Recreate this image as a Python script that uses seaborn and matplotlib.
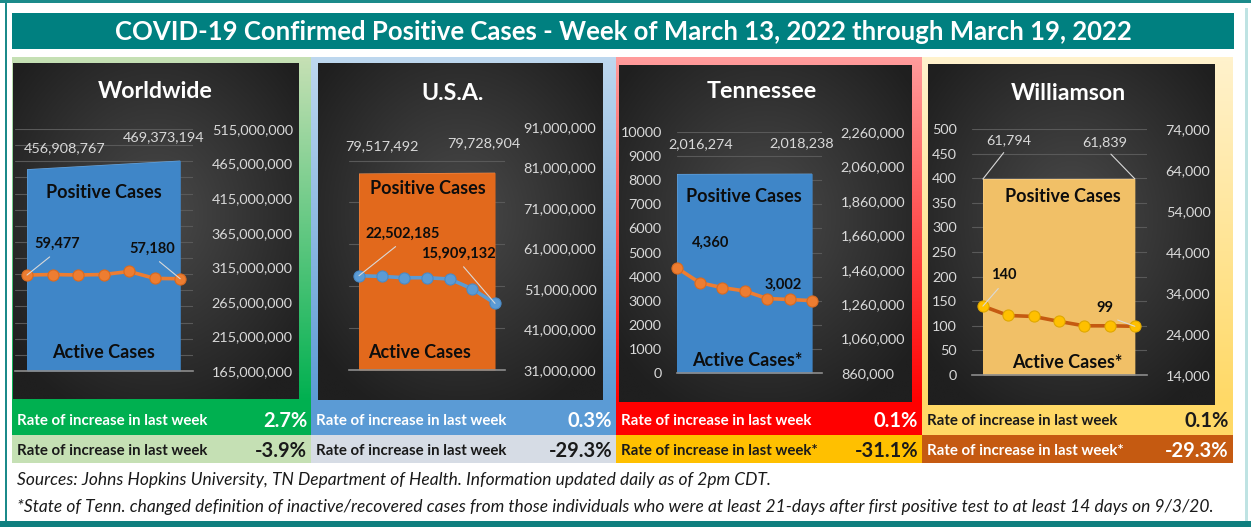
import numpy as np
import seaborn as sns
import matplotlib.pyplot as plt
from matplotlib.colors import LinearSegmentedColormap
from matplotlib.patches import Rectangle

# ---- data (week of March 13 - 19, 2022) ----
days = [1, 2, 3, 4, 5, 6, 7]
first_last = [1, 7]

world_active = [59477, 59800, 59500, 59800, 61700, 57400, 57180]
world_positive = [456908767, 469373194]
usa_active = [22502185, 22340000, 22030000, 22030000, 21720000, 19350000, 15909132]
usa_positive = [79517492, 79728904]
tn_active = [4360, 3750, 3545, 3405, 3090, 3050, 3002]
tn_positive = [2016274, 2018238]
wil_active = [140, 121, 119, 109, 100, 100, 99]
wil_positive = [61794, 61839]

panel_titles = ['Worldwide', 'U.S.A.', 'Tennessee', 'Williamson']
rate_positive = ['2.7%', '0.3%', '0.1%', '0.1%']
rate_active = ['-3.9%', '-29.3%', '-31.1%', '-29.3%']
rate_text1 = 'Rate of increase in last week'
rate_text2 = ['Rate of increase in last week', 'Rate of increase in last week',
              'Rate of increase in last week*', 'Rate of increase in last week*']
active_text = ['Active Cases', 'Active Cases', 'Active Cases*', 'Active Cases*']

title = 'COVID-19 Confirmed Positive Cases - Week of March 13, 2022 through March 19, 2022'
note1 = 'Sources: Johns Hopkins University, TN Department of Health. Information updated daily as of 2pm CDT.'
note2 = ('*State of Tenn. changed definition of inactive/recovered cases from those individuals who were '
         'at least 21-days after first positive test to at least 14 days on 9/3/20.')

sns.set_style('white')
plt.rcParams['font.family'] = ['Lato', 'DejaVu Sans']

W, H = 1251, 527
fig = plt.figure(figsize=(W / 100, H / 100), dpi=100)
bg = fig.add_axes([0, 0, 1, 1])
bg.axis('off')


def box(x0, y0, x1, y1, color, z=1):
    bg.add_patch(Rectangle((x0, y0), x1 - x0, y1 - y0, facecolor=color, edgecolor='none', zorder=z))


def vgrad(x0, y0, x1, y1, c_top, c_bot, z=1):
    cmap = LinearSegmentedColormap.from_list('g', [c_top, c_bot])
    bg.imshow(np.linspace(0, 1, 64).reshape(-1, 1), cmap=cmap, extent=(x0, x1, y1, y0),
              aspect='auto', zorder=z, interpolation='bilinear')


# dark chart background (radial shading like the Excel chart style)
yy, xx = np.mgrid[0:1:120j, 0:1:120j]
radial = np.clip(np.hypot((xx - 0.5) / 0.65, (yy - 0.45) / 0.65), 0, 1)
dark_cmap = LinearSegmentedColormap.from_list('dark', ['#4a4a4a', '#1f1f1f'])

# page frame + title banner
box(0, 0, W, 2.5, '#1b8a8a')
box(5, 0, 7, H, '#1b8a8a')
box(0, 521, W, H, '#0f7f7f', z=5)
box(1245, 8, 1248, 521, '#bfe3e3')
box(12, 13, 1234, 49, '#008080')
bg.text(623, 32, title, color='white', fontsize=18.5, fontweight='bold', ha='center', va='center')

panels = [
    dict(active=world_active, positive=world_positive,
         frame=(12, 57, 311, 405), dark=(13, 63, 299, 399), plot=(15, 129, 193, 371),
         xlim=(0.53, 7.5), prim=(0, 150000, 10000), sec=(165e6, 515e6, 50e6),
         left=False, xticks=[], title_xy=(155, 92),
         frame_c=('#c5e0b4', '#00b050'), row_c=('#00b050', '#c5e0b4'), row_t=('white', '#1a1a1a'),
         area_c=('#72aade', '#3f86c8'), line_c='#ed7d31', mark_c='#ed7d31', mark_e='#d96a20',
         pos_xy=(104, 193), act_xy=(104, 352),
         a_off=[(30, 31), (-28, 30)], a_lead=[True, True],
         p_off=[(38, 21), (-17, 23)], p_lead=[False, False]),
    dict(active=usa_active, positive=usa_positive,
         frame=(311, 57, 616, 405), dark=(318, 63, 603, 400), plot=(349, 127, 505, 370),
         xlim=(0.56, 7.44), prim=(0, 58e6, 10e6), sec=(31e6, 91e6, 10e6),
         left=False, xticks=[0.56, 3.51, 6.46], title_xy=(453, 93),
         frame_c=('#bdd7ee', '#5b9bd5'), row_c=('#5b9bd5', '#d6dce5'), row_t=('white', '#1a1a1a'),
         area_c=('#f39458', '#e2691c'), line_c='#5b9bd5', mark_c='#5b9bd5', mark_e='#4a8ac6',
         pos_xy=(428, 188), act_xy=(420, 352),
         a_off=[(44, 42), (-37, 50)], a_lead=[True, True],
         p_off=[(23, 27), (-11, 29)], p_lead=[False, False]),
    dict(active=tn_active, positive=tn_positive,
         frame=(616, 57, 922, 405), dark=(619, 65, 912, 402), plot=(677, 132, 822, 373),
         xlim=(1.0, 7.44), prim=(0, 10000, 1000), sec=(860000, 2260000, 200000),
         left=True, xticks=[1, 4, 7], title_xy=(762, 92),
         frame_c=('#ff9b9b', '#ff0000'), row_c=('#ff0000', '#ffc000'), row_t=('white', '#1a1a1a'),
         area_c=('#72aade', '#3f86c8'), line_c='#ed7d31', mark_c='#ed7d31', mark_e='#d96a20',
         pos_xy=(744, 197), act_xy=(747, 360),
         a_off=[(34, 25), (-29, 16)], a_lead=[False, False],
         p_off=[(24, 30), (-10, 30)], p_lead=[False, False]),
    dict(active=wil_active, positive=wil_positive,
         frame=(922, 57, 1233, 405), dark=(928, 64, 1215, 405), plot=(972, 129, 1147, 375),
         xlim=(0.57, 7.48), prim=(0, 500, 50), sec=(14000, 74000, 10000),
         left=True, xticks=[], title_xy=(1068, 93),
         frame_c=('#fff2cc', '#ffd966'), row_c=('#ffd966', '#c55a11'), row_t=('#1a1a1a', 'white'),
         area_c=('#ffd894', '#f1c067'), line_c='#c55a11', mark_c='#ffc000', mark_e='#e0a800',
         pos_xy=(1063, 196), act_xy=(1067, 362),
         a_off=[(21, 31), (-30, 18)], a_lead=[True, True],
         p_off=[(26, 39), (-30, 37)], p_lead=[True, True]),
]

label_c = '#d9d9d9'
fmt = lambda v: f'{v:,.0f}'

for i, p in enumerate(panels):
    fx0, fy0, fx1, fy1 = p['frame']
    vgrad(fx0, fy0, fx1, fy1, *p['frame_c'])
    dx0, dy0, dx1, dy1 = p['dark']
    bg.imshow(radial, cmap=dark_cmap, vmin=0, vmax=1, extent=(dx0, dx1, dy1, dy0),
              aspect='auto', zorder=2, interpolation='bilinear')
    bg.text(*p['title_xy'], panel_titles[i], color='white', fontsize=16.7, fontweight='bold',
            ha='center', va='center', zorder=3)

    # rate rows
    box(fx0, 405, fx1, 435, p['row_c'][0], z=3)
    box(fx0, 435, fx1, 463, p['row_c'][1], z=3)
    for ry, txt, val, tc in [(421, rate_text1, rate_positive[i], p['row_t'][0]),
                             (451, rate_text2[i], rate_active[i], p['row_t'][1])]:
        bg.text(fx0 + 5, ry, txt, color=tc, fontsize=10.8, fontweight='bold', va='center', zorder=4)
        bg.text(fx1 - 4, ry, val, color=tc, fontsize=14.5, fontweight='bold', va='center', ha='right', zorder=4)

    # chart axes: grid layer, area layer (secondary scale), line layer (primary scale)
    x0, y0, x1, y1 = p['plot']
    rect = [x0 / W, 1 - y1 / H, (x1 - x0) / W, (y1 - y0) / H]
    ax_g = fig.add_axes(rect)
    ax_a = fig.add_axes(rect, sharex=ax_g)
    ax_l = fig.add_axes(rect, sharex=ax_g, sharey=ax_g)
    for z, a in enumerate([ax_g, ax_a, ax_l]):
        a.set_zorder(3 + z)
        a.set_facecolor('none')
        for s in a.spines.values():
            s.set_visible(False)

    pmin, pmax, pstep = p['prim']
    smin, smax, sstep = p['sec']

    # area: total positive cases, first and last day
    poly = ax_a.fill_between(first_last, p['positive'], smin, color=p['area_c'][1], lw=0)
    grad = LinearSegmentedColormap.from_list('a', list(p['area_c']))
    img = ax_a.imshow(np.linspace(0, 1, 64).reshape(-1, 1), cmap=grad, aspect='auto',
                      extent=(first_last[0], first_last[1], smin, max(p['positive'])),
                      interpolation='bilinear')
    img.set_clip_path(poly.get_paths()[0], ax_a.transData)
    ax_a.set_ylim(smin, smax)
    ax_a.set_yticks(np.arange(smin, smax + sstep / 2, sstep))
    ax_a.yaxis.tick_right()
    ax_a.set_yticklabels([fmt(v) for v in ax_a.get_yticks()])
    ax_a.tick_params(axis='y', length=0, colors=label_c, labelsize=10.4, pad=13.5)
    ax_a.tick_params(axis='x', length=0, labelbottom=False)

    # grid layer on primary scale
    ax_g.set_ylim(pmin, pmax)
    ax_g.set_yticks(np.arange(pmin, pmax + pstep / 2, pstep))
    ax_g.set_yticklabels([f'{int(v)}' for v in ax_g.get_yticks()])
    ax_g.grid(axis='y', color='#595959', lw=0.8)
    ax_g.grid(axis='x', visible=False)
    ax_g.tick_params(axis='y', length=0, labelleft=p['left'], colors=label_c, labelsize=10.4, pad=11)
    ax_g.tick_params(axis='x', length=0, labelbottom=False)

    # line: active cases
    sns.lineplot(x=days, y=p['active'], ax=ax_l, color=p['line_c'], lw=2.6, marker='o',
                 markersize=8, markerfacecolor=p['mark_c'], markeredgecolor=p['mark_e'],
                 markeredgewidth=0.8)
    for ln in ax_l.lines:
        ln.set_clip_on(False)
    ax_l.set_xlim(*p['xlim'])
    ax_l.set_ylim(pmin, pmax)
    ax_l.set_xlabel('')
    ax_l.set_ylabel('')
    ax_l.tick_params(axis='y', left=False, labelleft=False)
    ax_l.set_xticks(p['xticks'])
    ax_l.tick_params(axis='x', direction='out', length=4, width=1, color='#8c8c8c', labelbottom=False)
    ax_l.spines['bottom'].set_visible(True)
    ax_l.spines['bottom'].set_color('#8c8c8c')
    ax_l.spines['bottom'].set_linewidth(1.2)

    lead = dict(arrowstyle='-', color=label_c, lw=0.8, shrinkA=3, shrinkB=0, relpos=(0.5, 0))
    for k, idx in enumerate([0, -1]):
        ax_l.annotate(fmt(p['active'][idx]), xy=(days[idx], p['active'][idx]), xytext=p['a_off'][k],
                      textcoords='offset pixels', ha='center', va='center', fontsize=10.5,
                      fontweight='bold', color='#0d0d0d', annotation_clip=False,
                      arrowprops=lead if p['a_lead'][k] else None)
        ax_a.annotate(fmt(p['positive'][k]), xy=(first_last[k], p['positive'][k]), xytext=p['p_off'][k],
                      textcoords='offset pixels', ha='center', va='center', fontsize=10.4,
                      color=label_c, annotation_clip=False,
                      arrowprops=lead if p['p_lead'][k] else None)

    ax_l.text(*p['pos_xy'], 'Positive Cases', transform=bg.transData, ha='center', va='center',
              fontsize=13, fontweight='bold', color='#0d0d0d')
    ax_l.text(*p['act_xy'], active_text[i], transform=bg.transData, ha='center', va='center',
              fontsize=13, fontweight='bold', color='#0d0d0d')

bg.text(17, 480, note1, fontsize=12.5, style='italic', color='#1a1a1a', va='center', zorder=4)
bg.text(17, 507, note2, fontsize=12.5, style='italic', color='#1a1a1a', va='center', zorder=4)

bg.set_xlim(0, W)
bg.set_ylim(H, 0)

fig.savefig('out.png', dpi=100)
